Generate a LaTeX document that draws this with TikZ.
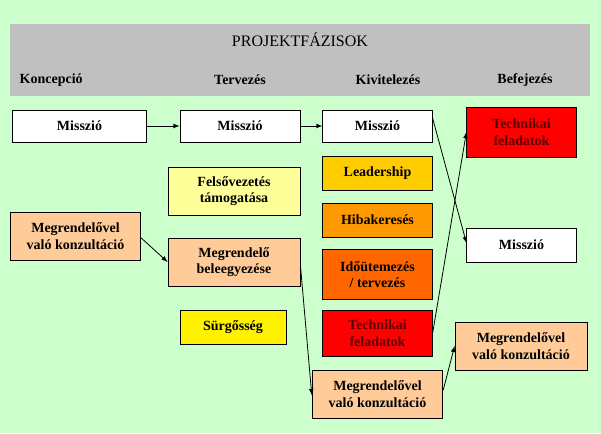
\documentclass[tikz,border=0pt]{standalone}
\usepackage{fontspec}
\setmainfont{Liberation Serif}
\begin{document}
\begin{tikzpicture}[x=0.75pt,y=-0.75pt,
 bx/.style={draw=black,line width=0.6pt,align=center,font=\rmfamily\bfseries\fontsize{10.5}{12.5}\selectfont,inner sep=0pt},
 hd/.style={font=\rmfamily\bfseries\fontsize{10.5}{12.5}\selectfont},
 ar/.style={-latex,line width=0.6pt}]
\fill[fill={rgb,255:red,204;green,255;blue,204}] (0,0) rectangle (601,433);
\useasboundingbox (0,0) rectangle (601,433);
\fill[fill={rgb,255:red,192;green,192;blue,192}] (10,24) rectangle (590,96);
\node[font=\rmfamily\fontsize{12}{14}\selectfont] (title) at (300,40) {PROJEKTFÁZISOK};
\node[hd,anchor=west] (h1) at (15,80) {Koncepció};
\node[hd] (h2) at (240,80) {Tervezés};
\node[hd] (h3) at (388,80) {Kivitelezés};
\node[hd] (h4) at (525,80) {Befejezés};
\node[bx,fill=white,minimum width=101pt,minimum height=24pt] (m1) at (79.5,126) {Misszió};
\node[bx,fill=white,minimum width=90pt,minimum height=24pt] (m2) at (240,126) {Misszió};
\node[bx,fill=white,minimum width=82pt,minimum height=24pt] (m3) at (377.5,126) {Misszió};
\node[bx,fill=red,text={rgb,255:red,90;green,0;blue,0},minimum width=82pt,minimum height=38pt] (t1) at (521.5,132.5) {Technikai\\feladatok};
\node[bx,fill={rgb,255:red,255;green,204;blue,0},minimum width=82pt,minimum height=25.5pt] (lead) at (377.5,173) {Leadership};
\node[bx,fill={rgb,255:red,255;green,255;blue,153},minimum width=99pt,minimum height=36pt] (fel) at (234,191) {Felsővezetés\\támogatása};
\node[bx,fill={rgb,255:red,255;green,153;blue,0},minimum width=82pt,minimum height=25.5pt] (hib) at (377.5,220) {Hibakeresés};
\node[bx,fill={rgb,255:red,255;green,204;blue,153},minimum width=98pt,minimum height=36pt] (k1) at (75.5,236) {Megrendelővel\\való konzultáció};
\node[bx,fill={rgb,255:red,255;green,204;blue,153},minimum width=99pt,minimum height=36pt] (bel) at (234,262) {Megrendelő\\beleegyezése};
\node[bx,fill=white,minimum width=82pt,minimum height=25.5pt] (m4) at (521.5,245) {Misszió};
\node[bx,fill={rgb,255:red,255;green,102;blue,0},minimum width=82pt,minimum height=37pt] (ido) at (377.5,274.5) {Időütemezés\\/ tervezés};
\node[bx,fill=yellow,minimum width=79.5pt,minimum height=25pt] (sur) at (233,327.5) {Sürgősség};
\node[bx,fill=red,text={rgb,255:red,90;green,0;blue,0},minimum width=82pt,minimum height=34pt] (t2) at (377.5,333.5) {Technikai\\feladatok};
\node[bx,fill={rgb,255:red,255;green,204;blue,153},minimum width=99pt,minimum height=36pt] (k3) at (521,346) {Megrendelővel\\való konzultáció};
\node[bx,fill={rgb,255:red,255;green,204;blue,153},minimum width=98pt,minimum height=36pt] (k2) at (377.5,394) {Megrendelővel\\való konzultáció};
\draw[ar] (m1) -- (m2);
\draw[ar] (m2) -- (m3);
\draw[ar] (m3.east |- 0,118) -- (m4.west |- 0,243);
\draw[ar] (t2.east) -- (t1.west |- 0,132);
\draw[ar] (k1.east |- 0,238) -- (bel.west);
\draw[ar] (bel.east |- 0,265) -- (k2.west |- 0,395);
\draw[ar] (k2.east |- 0,390) -- (k3.west |- 0,346);
\end{tikzpicture}
\end{document}
